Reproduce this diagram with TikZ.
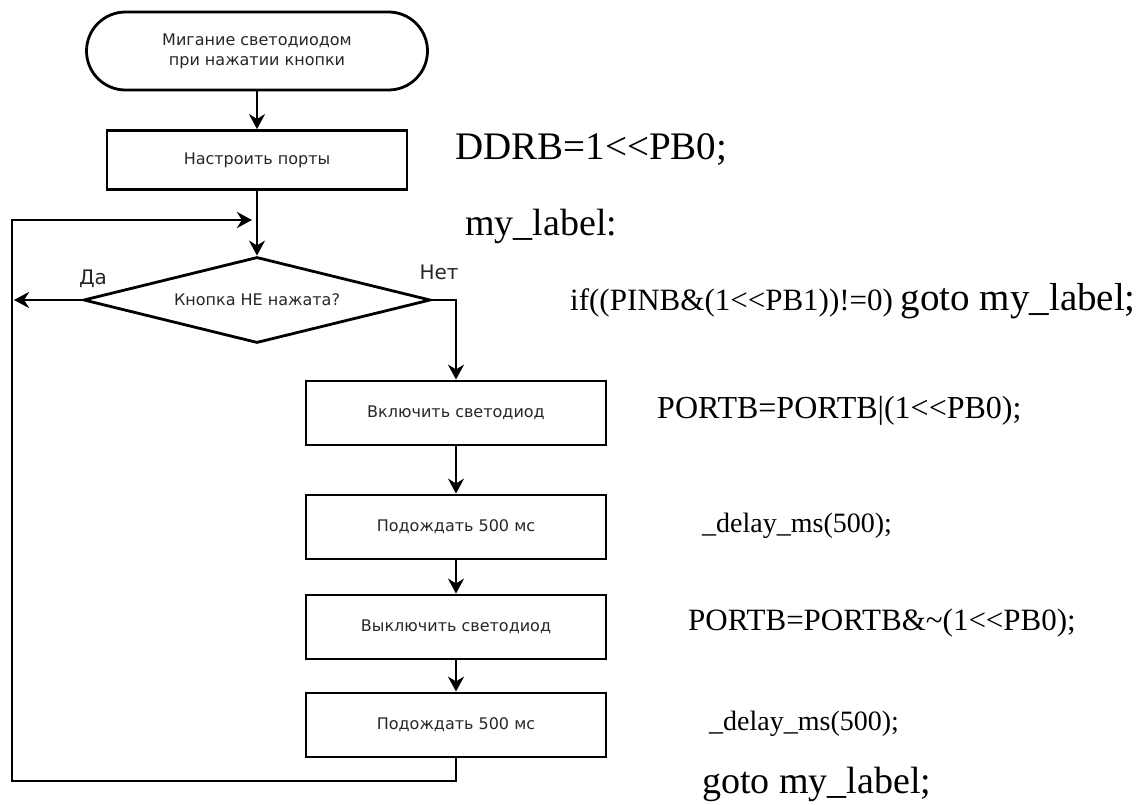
\documentclass[tikz,border=0pt]{standalone}
\usepackage{fontspec}
\setmainfont{Liberation Serif}
\setsansfont{DejaVu Sans}
\usepackage{tikz}
\usetikzlibrary{shapes.geometric, arrows.meta}
\tikzstyle{startstop} = [rectangle, rounded corners=39pt, minimum width=341pt, minimum height=78pt, draw, line width=2.8pt, align=center, text=black!85, font=\sffamily\fontsize{16}{20}\selectfont]
\tikzstyle{process} = [rectangle, minimum width=300pt, minimum height=64pt, draw, line width=2.8pt, text=black!85, font=\sffamily\fontsize{16}{18}\selectfont]
\tikzstyle{decision} = [diamond, aspect=4, minimum width=347pt, minimum height=86pt, inner sep=0pt, draw, line width=2.8pt, text=black!85, font=\sffamily\fontsize{16}{18}\selectfont]
\tikzstyle{answer} = [text=black!85, font=\sffamily\fontsize{20}{22}\selectfont]
\tikzstyle{code} = [anchor=base west, inner sep=0pt, font=\rmfamily]
\tikzstyle{arrow} = [line width=2.8pt, -{Stealth[length=15pt,width=16pt]}]

\begin{document}
\begin{tikzpicture}[x=1pt,y=-1pt,line join=miter]
    \useasboundingbox (0,0) rectangle (1148,805);
    % flowchart
    \node (start) [startstop] at (257,51) {Мигание светодиодом\\при нажатии кнопки};
    \node (setup) [process, minimum height=59pt] at (257,160) {Настроить порты};
    \node (check) [decision] at (257,300) {Кнопка НЕ нажата?};
    \node (ledon) [process] at (456,413) {Включить светодиод};
    \node (wait1) [process] at (456,527) {Подождать 500 мс};
    \node (ledoff) [process] at (456,627) {Выключить светодиод};
    \node (wait2) [process] at (456,725) {Подождать 500 мс};
    \node (yes) [answer] at (93,279) {Да};
    \node (no) [answer] at (439,272) {Нет};
    \coordinate (yesend) at (14,300);
    \coordinate (loopbl) at (12,781);
    \coordinate (looptip) at (252,220);

    \draw [arrow] (start) -- (setup);
    \draw [arrow] (setup) -- (check);
    \draw [arrow] (check.east) -| (ledon.north);
    \draw [arrow] (ledon) -- (wait1);
    \draw [arrow] (wait1) -- (ledoff);
    \draw [arrow] (ledoff) -- (wait2);
    \draw [arrow] (check.west) -- (yesend);
    \draw [arrow] (wait2.south) |- (loopbl) |- (looptip);

    % code
    \node (ddrb) [code] at (455,160) {\fontsize{39}{42}\selectfont DDRB=1<{}<PB0;};
    \node (label) [code] at (465,235) {\fontsize{38}{42}\selectfont my\_label:};
    \node (test) [code] at (570,310) {\fontsize{31}{34}\selectfont if((PINB\&(1<{}<PB1))!=0)\ {\fontsize{39}{42}\selectfont goto my\_label;}};
    \node (seton) [code] at (657,418) {\fontsize{32}{36}\selectfont PORTB=PORTB|(1<{}<PB0);};
    \node (delay1) [code] at (702,532) {\fontsize{28}{32}\selectfont \_delay\_ms(500);};
    \node (setoff) [code] at (688,630) {\fontsize{31}{34}\selectfont PORTB=PORTB\&\textasciitilde(1<{}<PB0);};
    \node (delay2) [code] at (709,730) {\fontsize{28}{32}\selectfont \_delay\_ms(500);};
    \node (jump) [code] at (702,793) {\fontsize{38}{40}\selectfont goto my\_label;};
\end{tikzpicture}
\end{document}
